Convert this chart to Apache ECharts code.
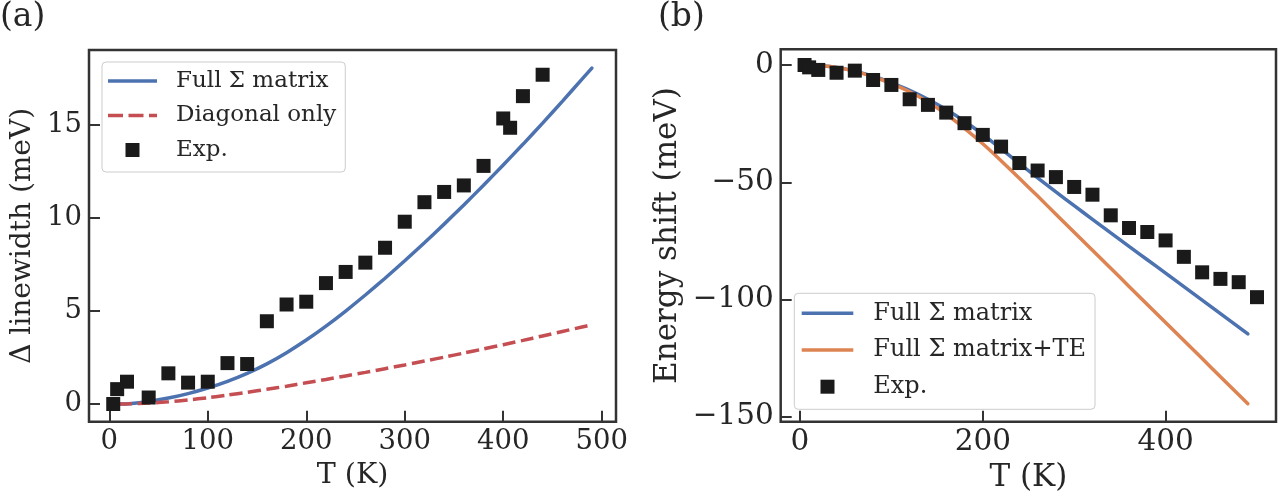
<!DOCTYPE html>
<html>
<head>
<meta charset="utf-8">
<script src="https://cdn.jsdelivr.net/npm/echarts@6/dist/echarts.min.js"></script>
<style>
html,body{margin:0;padding:0;background:#fff;}
#chart{width:1287px;height:500px;}
</style>
</head>
<body>
<div id="chart"></div>
<script>
// ---------- Panel (a): linewidth ----------
const leftExpT = [4, 8, 18, 40, 60, 80, 100, 120, 140, 160, 180, 200, 220, 240, 260, 280, 300, 320, 340, 360, 380, 400, 407, 420, 440];
const leftExpV = [0.0, 0.8, 1.2, 0.35, 1.65, 1.15, 1.2, 2.2, 2.15, 4.45, 5.35, 5.5, 6.5, 7.1, 7.6, 8.4, 9.8, 10.85, 11.4, 11.75, 12.8, 15.35, 14.85, 16.55, 17.7];
const leftCurveT = [10, 20, 40, 60, 80, 100, 120, 140, 160, 180, 200, 220, 240, 260, 280, 300, 320, 340, 360, 380, 400, 420, 440, 460, 480, 490];
const leftFullSigma = [0.0, 0.02, 0.14, 0.32, 0.56, 0.86, 1.22, 1.65, 2.16, 2.76, 3.44, 4.19, 5.0, 5.86, 6.76, 7.7, 8.67, 9.67, 10.7, 11.76, 12.85, 13.96, 15.1, 16.27, 17.46, 18.06];
const leftDiagonal = [0.0, 0.01, 0.05, 0.12, 0.22, 0.34, 0.48, 0.63, 0.79, 0.96, 1.14, 1.32, 1.51, 1.7, 1.9, 2.1, 2.31, 2.52, 2.74, 2.96, 3.19, 3.42, 3.66, 3.9, 4.14, 4.26];
const leftXTicks = [0, 100, 200, 300, 400, 500];
const leftYTicks = [0, 5, 10, 15];

// ---------- Panel (b): energy shift ----------
const rightExpT = [5, 10, 20, 40, 60, 80, 100, 120, 140, 160, 180, 200, 220, 240, 260, 280, 300, 320, 340, 360, 380, 400, 420, 440, 460, 480, 500];
const rightExpV = [0, -1.0, -2.1, -3.3, -2.4, -6.4, -8.5, -14.6, -17.0, -20.3, -24.8, -29.8, -34.8, -41.8, -45.0, -47.8, -52.0, -55.3, -64.1, -69.5, -71.2, -74.8, -81.8, -88.4, -91.2, -92.6, -99.0];
const rightCurveT = [10, 20, 40, 60, 80, 100, 120, 140, 160, 180, 200, 220, 240, 260, 280, 300, 320, 340, 360, 380, 400, 420, 440, 460, 480, 490];
const rightFullSigma = [0, -0.2, -1.0, -2.6, -4.8, -7.6, -10.8, -14.6, -19.0, -24.0, -29.6, -35.8, -42.0, -48.1, -54.1, -60.0, -65.8, -71.6, -77.35, -83.05, -88.75, -94.5, -100.25, -106.0, -111.75, -114.65];
const rightFullSigmaTE = [0, -0.2, -1.0, -2.7, -5.0, -7.9, -11.4, -15.8, -21.0, -27.0, -33.6, -40.8, -48.3, -55.9, -63.6, -71.3, -79.0, -86.7, -94.4, -102.1, -109.8, -117.5, -125.2, -132.9, -140.6, -144.45];
const rightXTicks = [0, 200, 400];
const rightYTicks = [0, -50, -100, -150];

const FONT = 'DejaVu Serif';
const TXT = '#262626';
const SPINE = '#333333';
const BLUE = '#4c72b0', RED = '#c44e52', ORANGE = '#dd8452', SQ = '#1a1a1a';
const LW = 3.5;

const zip = (xs, ys) => xs.map((x, i) => [x, ys[i]]);
const fmt = v => (v < 0 ? '\u2212' + Math.abs(v) : String(v));

function xAxisCfg(gi, min, max, ticks, tickFont, nameFont, gap) {
  return {
    type: 'value', gridIndex: gi, min: min, max: max,
    name: 'T (K)', nameLocation: 'middle', nameGap: gap,
    nameTextStyle: { fontFamily: FONT, fontSize: nameFont, color: TXT },
    axisLine: { show: false, onZero: false },
    splitLine: { show: false },
    axisTick: { show: true, inside: true, length: 11, lineStyle: { color: SPINE, width: 2 }, customValues: ticks },
    axisLabel: { customValues: ticks, fontFamily: FONT, fontSize: tickFont, color: TXT, margin: 6, formatter: fmt }
  };
}
function yAxisCfg(gi, min, max, ticks, name, gap, tickFont, nameFont) {
  return {
    type: 'value', gridIndex: gi, min: min, max: max,
    name: name, nameLocation: 'middle', nameGap: gap,
    nameTextStyle: { fontFamily: FONT, fontSize: nameFont, color: TXT },
    axisLine: { show: false, onZero: false },
    splitLine: { show: false },
    axisTick: { show: true, inside: true, length: 11, lineStyle: { color: SPINE, width: 2 }, customValues: ticks },
    axisLabel: { customValues: ticks, fontFamily: FONT, fontSize: tickFont, color: TXT, margin: 7, formatter: fmt }
  };
}

const squareIcon = 'path://M0 0H10V10H0Z';
const solidIconL = 'path://M0 0H49V3.5H0Z';
const dashIconL = 'path://M0 0H15V3.5H0Z M20.5 0H35.5V3.5H20.5Z M41 0H49V3.5H41Z';
const solidIconR = 'path://M0 0H51.6V3.5H0Z';

const option = {
  animation: false,
  backgroundColor: '#fff',
  grid: [
    { left: 89, top: 50, width: 527, height: 371.7, show: true, borderColor: SPINE, borderWidth: 2.5, backgroundColor: 'transparent' },
    { left: 780.7, top: 49.3, width: 495.3, height: 372.4, show: true, borderColor: SPINE, borderWidth: 2.5, backgroundColor: 'transparent' }
  ],
  xAxis: [
    xAxisCfg(0, -20.6, 514.5, leftXTicks, 27.5, 28.5, 36),
    xAxisCfg(1, -21.1, 520.8, rightXTicks, 29.5, 31, 38)
  ],
  yAxis: [
    yAxisCfg(0, -0.95, 19.03, leftYTicks, '\u0394 linewidth (meV)', 52, 27.5, 28),
    yAxisCfg(1, -152.1, 6.7, rightYTicks, 'Energy shift (meV)', 97, 29.5, 31)
  ],
  legend: [
    {
      left: 102, top: 62, orient: 'vertical',
      padding: [7, 9, 10, 6], itemGap: 10.5, itemWidth: 49, itemHeight: 14,
      backgroundColor: 'rgba(255,255,255,0.8)', borderColor: '#cccccc', borderWidth: 1, borderRadius: 4,
      textStyle: { fontFamily: FONT, fontSize: 23, lineHeight: 24, color: TXT, padding: [0, 0, 0, 14] },
      itemStyle: { borderWidth: 0 },
      selectedMode: false,
      data: [
        { name: 'Full \u03a3 matrix', icon: solidIconL, itemStyle: { color: BLUE } },
        { name: 'Diagonal only', icon: dashIconL, itemStyle: { color: RED } },
        { name: 'Exp.', icon: squareIcon, itemStyle: { color: SQ } }
      ]
    },
    {
      left: 794.3, top: 293.3, orient: 'vertical',
      padding: [8, 9, 10.6, 7.4], itemGap: 12.7, itemWidth: 51.6, itemHeight: 14,
      backgroundColor: 'rgba(255,255,255,0.8)', borderColor: '#cccccc', borderWidth: 1, borderRadius: 4,
      textStyle: { fontFamily: FONT, fontSize: 24, lineHeight: 24, color: TXT, padding: [0, 0, 0, 15] },
      itemStyle: { borderWidth: 0 },
      selectedMode: false,
      data: [
        { name: 'Full \u03a3 matrix', icon: solidIconR, itemStyle: { color: BLUE } },
        { name: 'Full \u03a3 matrix+TE', icon: solidIconR, itemStyle: { color: ORANGE } },
        { name: 'Exp.', icon: squareIcon, itemStyle: { color: SQ } }
      ]
    }
  ],
  graphic: [
    { type: 'text', x: 0, y: 17.5, style: { text: '(a)', font: '33px "DejaVu Serif"', fill: TXT, verticalAlign: 'middle' } },
    { type: 'text', x: 658, y: 17.5, style: { text: '(b)', font: '33px "DejaVu Serif"', fill: TXT, verticalAlign: 'middle' } }
  ],
  series: [
    {
      name: 'Full \u03a3 matrix', type: 'line', xAxisIndex: 0, yAxisIndex: 0,
      data: zip(leftCurveT, leftFullSigma), symbol: 'none', smooth: 0.2,
      lineStyle: { color: BLUE, width: LW, cap: 'round' }, itemStyle: { color: BLUE }, z: 2
    },
    {
      name: 'Diagonal only', type: 'line', xAxisIndex: 0, yAxisIndex: 0,
      data: zip(leftCurveT, leftDiagonal), symbol: 'none', smooth: 0.2,
      lineStyle: { color: RED, width: LW, type: [13, 5.5] }, itemStyle: { color: RED }, z: 2
    },
    {
      name: 'Exp.', type: 'scatter', xAxisIndex: 0, yAxisIndex: 0,
      data: zip(leftExpT, leftExpV), symbol: 'rect', symbolSize: 14,
      itemStyle: { color: SQ, opacity: 1 }, z: 3
    },
    {
      name: 'Full \u03a3 matrix', type: 'line', xAxisIndex: 1, yAxisIndex: 1,
      data: zip(rightCurveT, rightFullSigma), symbol: 'none', smooth: 0.2,
      lineStyle: { color: BLUE, width: LW, cap: 'round' }, itemStyle: { color: BLUE }, z: 2
    },
    {
      name: 'Full \u03a3 matrix+TE', type: 'line', xAxisIndex: 1, yAxisIndex: 1,
      data: zip(rightCurveT, rightFullSigmaTE), symbol: 'none', smooth: 0.2,
      lineStyle: { color: ORANGE, width: LW, cap: 'round' }, itemStyle: { color: ORANGE }, z: 2
    },
    {
      name: 'Exp.', type: 'scatter', xAxisIndex: 1, yAxisIndex: 1,
      data: zip(rightExpT, rightExpV), symbol: 'rect', symbolSize: 14,
      itemStyle: { color: SQ, opacity: 1 }, z: 3
    }
  ]
};

const chart = echarts.init(document.getElementById('chart'), null, { renderer: 'canvas' });
chart.setOption(option);
</script>
</body>
</html>
